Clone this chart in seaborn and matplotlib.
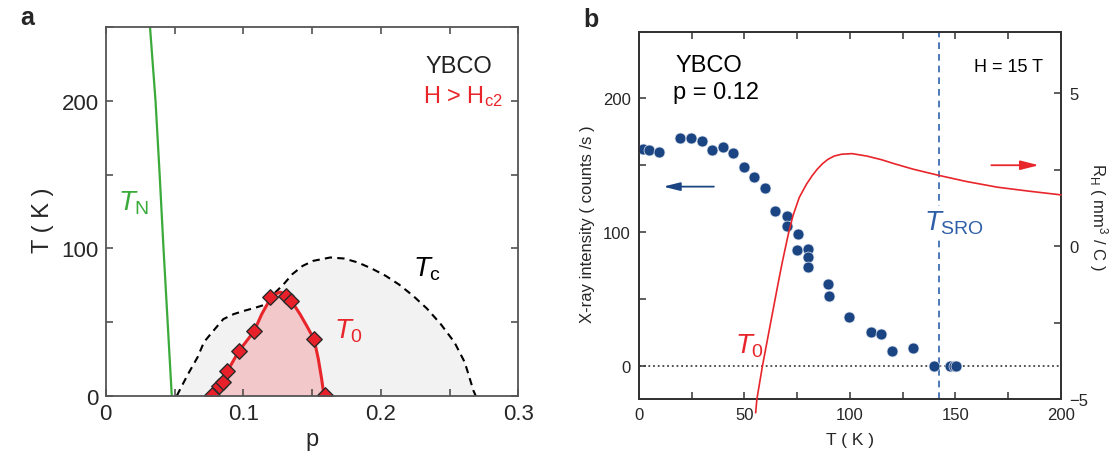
import numpy as np
import pandas as pd
import matplotlib
matplotlib.use("Agg")
import matplotlib.pyplot as plt
import seaborn as sns
from matplotlib.ticker import MultipleLocator, FuncFormatter

# ---------------- Panel a data ----------------
tn_p = [0.0322, 0.0362, 0.0392, 0.0420, 0.0450, 0.0480]
tn_T = [250, 200, 150, 100, 50, 0]

tc_p = [0.0517, 0.0554, 0.0605, 0.0667, 0.0715, 0.0793, 0.0855, 0.0931, 0.1006,
        0.1094, 0.1169, 0.1232, 0.1294, 0.1357, 0.1432, 0.1508, 0.1633, 0.1733,
        0.1834, 0.1934, 0.2035, 0.2135, 0.2235, 0.2335, 0.2436, 0.2536, 0.2611,
        0.2674, 0.2690]
tc_T = [0, 6.8, 15.8, 26, 36.5, 45.2, 52, 55.4, 57.6,
        59.9, 62.1, 70, 75.7, 82.5, 88.1, 91.5, 93.8, 93.1,
        90.4, 86.3, 81.4, 75.3, 67.8, 59.2, 48.6, 36.2, 22.6,
        3.4, 0]

t0_line_p = [0.0734, 0.0826, 0.0884, 0.0967, 0.1078, 0.1134, 0.1195, 0.1231,
             0.1267, 0.1310, 0.1350, 0.1413, 0.1462, 0.1515, 0.1546, 0.1570, 0.1587]
t0_line_T = [0, 8, 16.5, 30.2, 43.6, 55.3, 65.5, 68.8,
             70.3, 69.0, 64.3, 55.3, 47.3, 38.3, 24.8, 11.3, 0]

t0_pts_p = [0.0771, 0.0826, 0.0851, 0.0884, 0.0967, 0.1078, 0.1195, 0.1310,
            0.1350, 0.1515, 0.1594]
t0_pts_T = [0.7, 6.8, 9.1, 16.5, 30.2, 43.6, 67.0, 67.6, 64.3, 38.3, 0.7]

# ---------------- Panel b data ----------------
xray_T = [1.7, 4.8, 9.6, 19.5, 24.5, 29.7, 34.6, 40.0, 44.8, 49.6, 54.7, 59.7,
          64.7, 70.0, 70.0, 75.2, 74.7, 80.0, 80.0, 80.0, 89.7, 89.9, 99.7,
          109.8, 114.8, 119.9, 129.9, 139.8, 147.4, 149.3, 150.3]
xray_I = [162.0, 161.6, 159.7, 170.2, 170.5, 168.3, 161.5, 163.5, 159.2, 148.6,
          141.3, 133.0, 115.8, 111.8, 104.7, 98.5, 86.4, 87.6, 81.5, 73.8,
          61.0, 51.8, 36.2, 25.1, 23.7, 11.2, 13.5, 0, 0, 0, 0]

rh_T = [55.3, 55.9, 58.5, 62.0, 66.0, 68.0, 70.8, 73.0, 76.0, 79.4, 82.0, 84.5,
        87.0, 89.5, 92.5, 96.0, 101.0, 108.0, 115.0, 121.0, 130.0, 142.0, 155.0,
        170.0, 185.0, 200.0]
rh_R = [-5.45, -5.0, -3.93, -2.65, -1.2, -0.5, 0.4, 1.0, 1.6, 2.03, 2.3, 2.52,
        2.7, 2.84, 2.95, 3.01, 3.03, 2.95, 2.83, 2.70, 2.52, 2.32, 2.12,
        1.93, 1.80, 1.68]

t_sro = 142

RED = '#e8252b'
BLUE = '#1b4482'
GREEN = '#3aaa3a'

sns.set_style("ticks")
plt.rcParams['font.family'] = ['Liberation Sans', 'DejaVu Sans']
plt.rcParams['mathtext.fontset'] = 'custom'
plt.rcParams['mathtext.rm'] = 'Liberation Sans'
plt.rcParams['mathtext.it'] = 'Liberation Sans:italic'
plt.rcParams['mathtext.bf'] = 'Liberation Sans:bold'
plt.rcParams['axes.axisbelow'] = False

fig = plt.figure(figsize=(11.12, 4.56), dpi=100)
axa = fig.add_axes([0.0951, 0.130, 0.371, 0.808])
axb = fig.add_axes([0.5746, 0.1228, 0.3795, 0.8055])

# ---------------- Panel a ----------------
axa.fill_between(tc_p, tc_T, 0, color='#f2f2f2', lw=0, zorder=1)
axa.fill_between(t0_line_p, t0_line_T, 0, color='#f2c8ca', lw=0, zorder=2)
sns.lineplot(x=tc_p, y=tc_T, sort=False, estimator=None, color='black', lw=1.5,
             ax=axa, zorder=3)
axa.lines[-1].set_dashes((3.5, 2.5))
sns.lineplot(x=tn_p, y=tn_T, sort=False, estimator=None, color=GREEN, lw=1.6,
             ax=axa, zorder=3)
sns.lineplot(x=t0_line_p, y=t0_line_T, sort=False, estimator=None, color=RED,
             lw=2.2, ax=axa, zorder=4)
sns.scatterplot(x=t0_pts_p, y=t0_pts_T, marker='D', s=62, color='#e8202a',
                edgecolor='#2a2a2a', linewidth=1.0, ax=axa, zorder=5)

axa.set_axisbelow(False)
axa.set_xlim(0, 0.3)
axa.set_ylim(0, 250)
axa.xaxis.set_major_locator(MultipleLocator(0.1))
axa.xaxis.set_minor_locator(MultipleLocator(0.05))
axa.yaxis.set_major_locator(MultipleLocator(100))
axa.yaxis.set_minor_locator(MultipleLocator(50))
axa.xaxis.set_major_formatter(FuncFormatter(lambda v, p: '0' if abs(v) < 1e-9 else f'{v:.1f}'))
axa.yaxis.set_major_formatter(FuncFormatter(lambda v, p: f'{v:.0f}'))
axa.tick_params(which='both', direction='in', bottom=True, left=True, top=True,
                right=True, length=5, width=1.1, color='#444', labelsize=16, pad=5)
for s in axa.spines.values():
    s.set_color('#555')
    s.set_linewidth(1.3)
    s.set_zorder(6)
axa.set_xlabel('p', fontsize=17, va='center')
axa.set_ylabel('T ( K )', fontsize=17, va='center')
axa.xaxis.set_label_coords(0.5, -0.118)
axa.yaxis.set_label_coords(-0.152, 0.48)

axa.text(0.009, 126.5, r'$T_{\mathrm{N}}$', color=GREEN, fontsize=20, va='baseline')
axa.text(0.2235, 81.4, r'$T_{\mathrm{c}}$', color='black', fontsize=20, va='baseline')
axa.text(0.1658, 39.5, r'$T_{0}$', color=RED, fontsize=20, va='baseline')
axa.text(0.2812, 219.7, 'YBCO', color='#222', fontsize=17, ha='right', va='baseline')
axa.text(0.2887, 198.9, r'H > H$_{\mathrm{c2}}$', color=RED, fontsize=17, ha='right',
         va='baseline')

# ---------------- Panel b ----------------
axb.set_axisbelow(False)
axb.set_xlim(0, 200)
axb.set_ylim(-25, 250)
axb.axhline(0, color='#444', lw=1.3, ls=(0, (1, 1.6)), zorder=2)
axb.axvline(t_sro, color='#2d63ad', lw=1.2, ls=(0, (4, 3)), zorder=2)
sns.scatterplot(x=xray_T, y=xray_I, s=62, color=BLUE, edgecolor='#dfe6f0',
                linewidth=0.5, ax=axb, zorder=4)

axb.xaxis.set_major_locator(MultipleLocator(50))
axb.xaxis.set_minor_locator(MultipleLocator(25))
axb.yaxis.set_major_locator(MultipleLocator(100))
axb.yaxis.set_minor_locator(MultipleLocator(50))
axb.tick_params(which='both', direction='in', bottom=True, left=True, top=True,
                right=False, length=5, width=1.1, color='#333', labelsize=12, pad=6)
for s in axb.spines.values():
    s.set_color('#333')
    s.set_linewidth(1.3)
axb.set_xlabel('T ( K )', fontsize=12.5, va='center')
axb.set_ylabel('X-ray intensity ( counts /s )', fontsize=12, va='center')
axb.xaxis.set_label_coords(0.5, -0.109)
axb.yaxis.set_label_coords(-0.121, 0.48)

axb.text(17.5, 220.7, 'YBCO', fontsize=17, color='black', va='baseline')
axb.text(15.9, 200.2, 'p = 0.12', fontsize=17, color='black', va='baseline')
axb.text(158.6, 220.7, 'H = 15 T', fontsize=13, color='black', va='baseline')
axb.text(135.2, 102.2, r'$T_{\mathrm{SRO}}$', fontsize=20, color='#2d5ea8', va='baseline',
         bbox=dict(facecolor='white', edgecolor='none', pad=1.5), zorder=3)
axb.text(45.4, 10, r'$T_{0}$', fontsize=20, color=RED, va='baseline', zorder=5)
axb.annotate('', xy=(11.5, 134), xytext=(35.5, 134),
             arrowprops=dict(arrowstyle='-|>,head_length=1.0,head_width=0.25',
                             color=BLUE, lw=1.3, shrinkA=0, shrinkB=0))

ax2 = axb.twinx()
ax2.set_axisbelow(False)
ax2.set_ylim(-5, 7.02)
sns.lineplot(x=rh_T, y=rh_R, sort=False, estimator=None, color=RED, lw=1.2, ax=ax2,
             zorder=3)
ax2.lines[-1].set_clip_on(False)
ax2.annotate('', xy=(189.5, 2.65), xytext=(167, 2.65),
             arrowprops=dict(arrowstyle='-|>,head_length=1.1,head_width=0.28',
                             color=RED, lw=1.3, shrinkA=0, shrinkB=0))
ax2.yaxis.set_major_locator(MultipleLocator(5))
ax2.yaxis.set_minor_locator(MultipleLocator(2.5))
ax2.tick_params(which='both', direction='in', right=True, length=5, width=1.1,
                color='#333', labelsize=12, pad=6)
for s in ax2.spines.values():
    s.set_color('#333')
    s.set_linewidth(1.3)
ax2.set_ylabel(r'R$_{\mathrm{H}}$ ( mm$^{3}$ / C )', fontsize=12, rotation=270, va='center')
ax2.yaxis.set_label_coords(1.089, 0.50)

fig.text(20 / 1112, 1 - 18 / 456, 'a', fontsize=18, fontweight='bold', va='center', ha='left')
fig.text(583 / 1112, 1 - 20 / 456, 'b', fontsize=18, fontweight='bold', va='center', ha='left')

fig.savefig('out.png', dpi=100)
